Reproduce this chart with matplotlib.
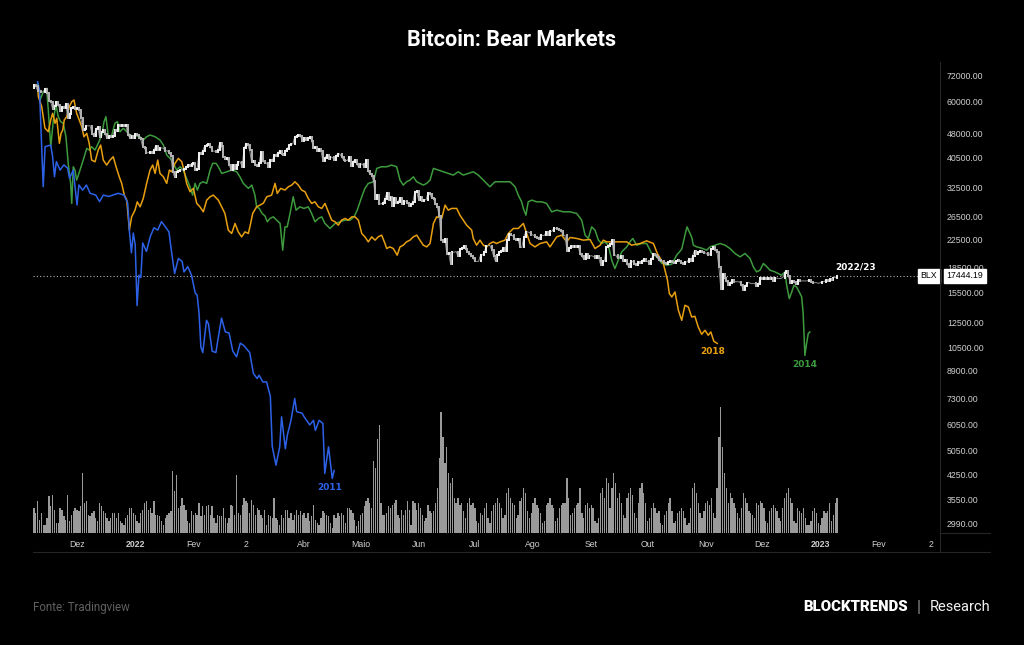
import numpy as np
import matplotlib.pyplot as plt
from matplotlib.lines import Line2D
from matplotlib.ticker import NullLocator
import matplotlib.transforms as mtransforms

# ---- data -------------------------------------------------------------
# BTC daily closes (thousand USD), 8 Nov 2021 (day -2) .. 10 Jan 2023 (day 426)
btc_close = [
    # Nov 2021 (from the 8th)
    67.5, 66.9, 64.9, 64.9, 64.2, 64.4, 65.5, 63.6, 60.4, 60.0, 56.9, 58.1, 59.7, 58.7, 56.3, 57.6,
    57.2, 58.9, 53.6, 54.8, 57.3, 57.8, 57.0,
    # Dec
    57.2, 56.5, 53.6, 49.2, 49.4, 50.6, 50.5, 50.6, 47.6, 47.1, 49.4, 50.1, 46.7, 48.4, 48.9, 47.6,
    46.2, 46.9, 46.7, 46.9, 49.0, 48.6, 50.8, 50.4, 50.8, 50.6, 50.7, 47.5, 46.5, 47.1, 46.3,
    # Jan 2022
    47.7, 47.3, 46.5, 45.9, 43.5, 43.2, 41.6, 41.8, 42.0, 41.8, 42.7, 43.9, 42.6, 43.1, 43.2, 43.1,
    42.3, 42.4, 41.7, 40.7, 36.5, 35.1, 36.3, 36.7, 36.9, 37.0, 37.1, 37.7, 38.2, 37.9, 38.5,
    # Feb
    38.7, 37.0, 37.3, 41.6, 41.4, 42.4, 43.8, 44.1, 44.3, 43.6, 42.4, 42.2, 42.1, 42.6, 44.6, 43.9,
    40.6, 40.0, 40.1, 38.4, 37.0, 38.3, 37.3, 38.3, 39.2, 39.1, 37.7, 43.2,
    # Mar
    44.4, 44.0, 42.5, 39.1, 39.4, 38.4, 37.9, 38.7, 41.9, 39.4, 38.8, 38.8, 37.8, 39.7, 39.3, 41.1,
    40.9, 41.8, 42.2, 41.3, 41.0, 42.4, 42.9, 44.0, 44.3, 44.5, 46.8, 47.1, 47.5, 47.1, 45.5,
    # Apr
    46.3, 45.8, 46.4, 46.6, 45.5, 43.2, 43.4, 42.3, 42.8, 42.2, 39.5, 40.1, 41.1, 39.9, 40.5, 40.4,
    39.7, 40.8, 41.5, 41.4, 40.5, 39.7, 39.5, 39.5, 40.4, 38.1, 39.2, 39.7, 38.6, 37.7,
    # May
    38.5, 38.5, 37.7, 39.7, 36.6, 36.0, 35.5, 34.1, 30.1, 31.0, 29.1, 29.0, 29.3, 30.1, 31.3, 29.9,
    30.4, 28.7, 30.3, 29.2, 29.4, 30.3, 29.1, 29.7, 29.6, 29.3, 28.6, 29.0, 29.5, 31.7, 31.8,
    # Jun
    29.8, 30.5, 29.7, 29.9, 29.9, 31.4, 31.1, 30.2, 30.1, 29.1, 28.4, 26.6, 22.5, 22.2, 22.6, 20.4,
    20.5, 19.0, 20.6, 20.6, 20.7, 20.0, 21.1, 21.2, 21.5, 21.0, 20.7, 20.3, 20.1, 19.8,
    # Jul
    19.3, 19.3, 19.3, 20.2, 20.2, 20.6, 21.6, 21.6, 21.6, 20.9, 20.0, 19.3, 20.2, 20.6, 20.8, 21.2,
    20.8, 22.4, 23.4, 23.2, 23.2, 22.7, 22.5, 22.6, 21.3, 21.3, 22.9, 23.8, 23.8, 23.7, 23.3,
    # Aug
    23.3, 23.0, 22.8, 22.6, 23.3, 23.2, 23.2, 23.8, 23.2, 23.9, 23.9, 24.4, 24.4, 24.3, 24.1, 23.9,
    23.3, 23.2, 20.8, 21.2, 21.5, 21.4, 21.5, 21.4, 21.6, 20.3, 20.0, 19.6, 20.3, 19.8, 20.0,
    # Sep
    20.1, 20.0, 19.8, 20.0, 19.8, 18.8, 19.3, 19.3, 21.4, 21.6, 21.8, 22.4, 20.2, 20.2, 19.7, 19.8,
    20.1, 19.4, 19.5, 19.0, 18.5, 19.4, 19.3, 18.9, 18.8, 19.2, 19.1, 19.4, 19.6, 19.4,
    # Oct
    19.3, 19.0, 19.6, 20.3, 20.2, 19.9, 19.5, 19.4, 19.4, 19.1, 19.0, 19.2, 19.4, 19.2, 19.1, 19.3,
    19.5, 19.3, 19.1, 19.0, 19.2, 19.2, 19.6, 19.3, 20.1, 20.8, 20.3, 20.6, 20.8, 20.6, 20.5,
    # Nov
    20.5, 20.2, 20.2, 21.1, 21.3, 20.9, 20.6, 18.5, 15.9, 17.6, 17.1, 16.8, 16.3, 16.6, 16.9, 16.7,
    16.7, 16.7, 16.7, 16.3, 15.8, 16.2, 16.6, 16.6, 16.5, 16.5, 16.5, 16.2, 16.4, 17.2,
    # Dec
    17.0, 17.1, 17.0, 17.1, 17.0, 17.1, 16.8, 17.2, 17.1, 17.1, 17.1, 17.2, 17.8, 18.0, 17.4, 16.6,
    16.8, 16.7, 16.4, 16.9, 16.8, 16.8, 16.8, 16.8, 16.8, 16.9, 16.7, 16.5, 16.6, 16.6, 16.5,
    # Jan 2023
    16.6, 16.7, 16.7, 16.9, 16.8, 17.0, 16.9, 17.2, 17.2, 17.44419,
]
btc_first_open = 66.0

# daily volume (relative units), same days as the candles
volume = [
    25, 20, 32, 13, 20, 8, 8, 15, 37, 27, 38, 23, 10, 10, 25, 23, 17, 13, 38, 12,
    18, 22, 25, 23, 22, 27, 60, 30, 32, 18, 17, 20, 22, 15, 12, 30, 27, 22, 20, 15,
    12, 15, 20, 20, 15, 20, 12, 10, 8, 15, 18, 25, 25, 20, 18, 12, 10, 20, 23, 30,
    32, 23, 25, 20, 32, 18, 18, 17, 12, 8, 15, 18, 20, 22, 62, 42, 58, 25, 27,
    35, 28, 23, 12, 10, 22, 18, 20, 18, 30, 17, 27, 18, 27, 28, 18, 27, 15, 10, 18,
    17, 17, 25, 15, 10, 15, 28, 27, 18, 58, 20, 18, 28, 35, 32, 30, 20, 33, 28,
    18, 25, 23, 18, 15, 23, 8, 18, 17, 15, 35, 15, 13, 8, 18, 15, 23, 23, 15, 20,
    13, 18, 23, 18, 22, 18, 20, 15, 20, 12, 17, 28, 13, 10, 8, 15, 22, 20, 18, 17,
    10, 5, 18, 15, 20, 17, 20, 18, 10, 25, 25, 23, 20, 13, 7, 12, 18, 20, 27,
    32, 35, 30, 25, 72, 65, 93, 107, 30, 18, 18, 20, 27, 25, 28, 30, 33, 18, 15, 23,
    18, 23, 32, 23, 8, 32, 30, 23,
    # Jun 2022
    30, 25, 18, 12, 15, 28, 22, 20, 22, 30, 45, 75, 120, 95, 70, 85, 60, 50, 55, 35,
    30, 35, 28, 30, 22, 15, 30, 35, 28, 30,
    # Jul
    25, 12, 10, 20, 18, 25, 30, 15, 10, 22, 28, 30, 35, 30, 25, 15, 18, 40, 45, 35,
    30, 28, 15, 18, 32, 35, 45, 40, 22, 15, 20,
    # Aug
    30, 35, 28, 25, 20, 10, 12, 28, 30, 35, 28, 25, 12, 15, 25, 28, 30, 30, 55, 35,
    18, 20, 25, 28, 30, 45, 20, 15, 28, 30, 25,
    # Sep
    28, 25, 12, 10, 15, 40, 45, 35, 55, 50, 25, 45, 60, 50, 35, 40, 30, 18, 15, 35,
    40, 45, 38, 20, 15, 30, 45, 50, 40, 30,
    # Oct
    12, 15, 25, 30, 25, 20, 22, 10, 8, 18, 22, 30, 35, 22, 10, 12, 20, 22, 25, 22,
    15, 8, 10, 25, 45, 50, 40, 30, 20, 15, 22,
    # Nov
    30, 32, 28, 35, 20, 15, 45, 95, 125, 85, 60, 45, 30, 40, 35, 30, 25, 20, 15, 25,
    40, 35, 30, 22, 20, 18, 15, 30, 28, 32,
    # Dec
    30, 25, 12, 10, 22, 25, 28, 25, 22, 15, 12, 25, 35, 40, 45, 35, 30, 12, 10, 25,
    22, 20, 25, 15, 8, 8, 12, 22, 25, 20, 10,
    # Jan 2023
    8, 15, 22, 20, 22, 30, 12, 18, 30, 35,
]

# earlier bear markets, rescaled to the 2021 top (days since the top, price)
days_2011 = [0, 1, 3, 4, 7, 8, 9, 10, 12, 14, 16, 17, 19, 21, 22, 24, 26, 28, 31, 33, 35, 38, 40,
             43, 46, 48, 49, 50, 51, 52, 53, 54, 55, 56, 58, 60, 62, 64, 66, 68, 70, 71, 73, 75,
             77, 78, 80, 82, 84, 85, 86, 87, 88, 90, 91, 93, 95, 96, 98, 100, 102, 104, 106, 108,
             110, 113, 115, 117, 118, 120, 122, 124, 125, 127, 129, 130, 132, 133, 135, 137, 138,
             141, 142, 145, 147, 148, 150, 152, 153, 155, 157, 158]
price_2011 = [69100, 65200, 32800, 43600, 44100, 40600, 35200, 39200, 36900, 38300, 37400, 34800,
              36900, 28800, 33200, 32000, 33200, 31300, 30900, 29500, 30900, 30600, 30900, 31300,
              30900, 29200, 23600, 20500, 23600, 21700, 14100, 17500, 17200, 22000, 20700, 23000,
              24500, 24100, 25600, 24700, 23800, 21400, 17700, 19700, 19300, 17900, 18600, 17500,
              15400, 15200, 13400, 10500, 10100, 12700, 12400, 10200, 10100, 11000, 12900, 11700,
              11600, 10200, 9800, 10800, 10600, 10100, 8700, 8400, 8600, 8200, 8200, 7400, 5200,
              4540, 5170, 6400, 5100, 5600, 6240, 7290, 6640, 6560, 6400, 6040, 6240, 5810, 6240,
              6110, 4280, 5170, 4130, 4370]

days_2018 = [0.0, 0.4, 2.2, 3.9, 5.7, 7.0, 8.0, 9.3, 10.2, 11.6, 12.5, 13.4, 14.2, 15.5, 16.9, 18.2,
             19.4, 20.8, 22.2, 23.5, 24.7, 26.2, 27.5, 28.8, 30.6, 32.3, 33.6, 35.0, 36.8, 38.6,
             40.3, 41.8, 43.5, 44.8, 46.2, 47.5, 48.9, 50.1, 51.9, 53.1, 54.6, 56.3, 58.1, 59.9,
             61.3, 62.6, 64.0, 65.2, 67.0, 68.8, 70.2, 71.4, 73.2, 75.0, 76.8, 78.0, 79.4, 81.2,
             83.0, 84.8, 86.5, 88.3, 90.1, 91.9, 93.6, 96.3, 98.1, 99.8, 101.6, 103.4, 105.2,
             106.9, 108.7, 110.5, 112.3, 113.5, 114.6, 116.7, 118.5, 120.3, 122.1, 124.7, 126.5,
             127.7, 129.5, 131.8, 133.6, 135.4, 137.1, 138.9, 140.7, 142.5, 144.2, 146.0, 147.8,
             149.6, 151.4, 153.1, 154.9, 156.7, 158.5, 160.2, 162.0, 163.8, 165.5, 167.4, 169.1,
             170.9, 172.7, 174.4, 176.2, 178.0, 179.8, 181.5, 183.3, 185.1, 186.0, 187.7, 189.5,
             191.6, 193.1, 194.8, 196.6, 198.4, 200.2, 202.0, 203.7, 205.5, 207.3, 209.1, 210.9,
             212.6, 215.3, 217.1, 218.8, 220.6, 223.3, 225.0, 226.8, 228.6, 231.3, 232.1, 233.9,
             235.7, 237.5, 239.3, 241.0, 242.8, 244.6, 246.4, 249.0, 250.8, 253.5, 256.1, 258.8,
             260.6, 262.4, 265.0, 267.7, 271.2, 273.0, 276.6, 279.2, 281.9, 283.7, 287.2, 290.8,
             294.3, 297.0, 299.7, 301.4, 303.2, 306.7, 313.9, 316.5, 321.0, 324.5, 328.1, 330.2,
             333.4, 335.6, 336.6, 337.9, 339.6, 341.4, 343.2, 344.9, 346.7, 348.5, 350.2, 352.0,
             353.8, 355.6, 357.3, 358.7, 360.3, 362.1]
price_2018 = [67100, 62150, 57900, 49760, 48470, 52670, 55240, 51450, 53310, 44630, 47910, 49060,
              52670, 53930, 57900, 59990, 60720, 55240, 52670, 50220, 46770, 47910, 44630, 39630,
              39150, 42550, 44090, 39630, 38250, 39630, 40580, 37790, 35190, 33580, 30900, 29820,
              24090, 26480, 27770, 29460, 28430, 30180, 33580, 36910, 38250, 36050, 39630, 36050,
              35190, 33580, 36910, 36470, 38710, 40110, 39150, 36910, 33580, 31640, 32410, 29130,
              28430, 27440, 29820, 30530, 30900, 29820, 28430, 27130, 24090, 23530, 25260, 23800,
              22970, 23800, 23530, 25260, 27130, 28430, 28780, 29190, 30530, 30900, 33580, 31280,
              32410, 32020, 32780, 33180, 33970, 33180, 32020, 31640, 30180, 29130, 29460, 28430,
              28110, 29130, 27440, 25870, 25560, 24960, 25870, 26180, 25870, 26480, 26480, 25870,
              23530, 22970, 22170, 22970, 22440, 22970, 23250, 21910, 21150, 21390, 21150, 20170,
              21390, 21650, 22170, 22440, 22970, 23250, 22440, 21650, 21390, 21910, 25260, 26480,
              26180, 28780, 27770, 28110, 28110, 26800, 25870, 24960, 24090, 22710, 21650, 22440,
              21650, 21390, 21910, 22170, 21910, 22170, 22440, 23530, 24380, 24380, 25260, 23530,
              21910, 21390, 21910, 22170, 21390, 22970, 23250, 22170, 22870, 22710, 22440, 22550,
              21150, 21650, 22440, 22170, 22170, 22170, 21650, 21910, 22330, 21910, 20410, 19010,
              16880, 15350, 14990, 15530, 13640, 12700, 14130, 13960, 13000, 13070, 12110, 11500,
              11830, 11420, 11690, 10940, 10780]

days_2014 = [0.0, 1.3, 2.7, 3.9, 4.8, 5.7, 7.0, 8.4, 9.8, 11.0, 12.3, 13.7, 15.1, 16.4, 17.6, 18.2,
             19.0, 19.9, 20.8, 22.6, 24.3, 26.2, 27.5, 28.8, 30.6, 32.3, 34.2, 35.4, 36.4, 37.7,
             39.5, 41.2, 42.5, 43.9, 45.7, 47.5, 49.2, 51.9, 53.7, 56.3, 58.1, 59.9, 62.6, 65.2,
             67.0, 68.8, 70.6, 72.3, 74.1, 75.9, 77.6, 79.4, 81.2, 82.6, 83.9, 85.1, 86.5, 88.3,
             90.1, 91.9, 93.3, 95.1, 96.3, 98.1, 100.8, 103.4, 106.1, 107.8, 109.6, 112.3, 114.1,
             115.8, 116.7, 118.1, 119.6, 121.2, 122.4, 123.8, 125.6, 127.4, 129.2, 130.6, 131.8,
             133.0, 134.5, 136.2, 137.7, 139.8, 141.9, 144.2, 146.0, 147.8, 149.6, 151.4, 153.1,
             155.8, 158.5, 161.1, 163.8, 166.5, 168.6, 170.3, 172.7, 174.4, 176.2, 178.9, 180.7,
             183.3, 186.0, 188.6, 191.3, 193.1, 194.8, 196.6, 198.4, 200.2, 202.0, 203.7, 205.5,
             207.3, 209.1, 210.9, 213.5, 216.2, 218.8, 221.5, 224.1, 226.8, 229.5, 232.1, 234.8,
             237.5, 241.0, 243.7, 246.4, 249.0, 251.7, 254.4, 256.1, 257.9, 258.8, 260.2, 261.4,
             263.3, 265.9, 268.6, 271.2, 273.9, 276.6, 280.1, 283.7, 287.2, 289.9, 291.7, 293.4,
             295.2, 297.0, 298.8, 300.5, 302.3, 304.1, 305.9, 307.6, 309.4, 311.2, 313.9, 315.6,
             317.1, 319.2, 321.9, 324.5, 327.2, 329.9, 332.5, 335.2, 337.9, 340.5, 343.2, 344.9,
             346.0, 348.5, 349.4, 351.2, 353.8, 356.5, 358.3, 360.9, 363.6, 366.3, 368.9, 371.6,
             374.3, 376.9, 379.6, 381.3, 383.1, 384.9, 386.7, 388.5, 390.2, 392.9, 394.6, 396.4,
             398.2, 399.1, 400.5, 401.8, 403.0, 404.4, 405.8, 407.1, 407.9, 408.8, 409.7, 410.6,
             411.5]
price_2014 = [68020, 60720, 63660, 65200, 65990, 56550, 43560, 52670, 58600, 53930, 52040, 51450,
              46770, 38250, 33580, 29130, 37790, 36910, 34380, 36910, 39630, 43070, 42550, 43560,
              42550, 44630, 47340, 52040, 53930, 46770, 47340, 51450, 52040, 48470, 49660, 48470,
              47340, 46770, 47340, 45690, 46770, 47340, 46770, 45690, 44090, 41070, 40110, 38710,
              36910, 37790, 36910, 34800, 32780, 30900, 33580, 32020, 33580, 33970, 33580, 36910,
              38710, 38710, 37790, 36050, 36470, 36910, 36470, 35190, 33580, 32410, 33180, 30900,
              28430, 28110, 27130, 26610, 25560, 26180, 26480, 25870, 25260, 20900, 24660, 24660,
              27130, 30530, 27770, 28430, 28110, 28430, 27130, 25560, 26180, 26480, 25260, 24380,
              25260, 25560, 25870, 25870, 26480, 27770, 30530, 32410, 33580, 33970, 37360, 37790,
              37790, 38250, 37790, 34380, 33180, 33970, 34380, 35190, 33970, 33580, 33180, 33580,
              34380, 37360, 36910, 36470, 36050, 35620, 36470, 35620, 36050, 36470, 35620, 34380,
              32780, 33970, 33970, 33970, 33970, 32780, 30900, 29460, 28110, 26800, 29460, 29820,
              29460, 29460, 29130, 27440, 27770, 27440, 27440, 27130, 25870, 23250, 22710, 24660,
              24090, 22440, 21910, 22170, 21650, 19460, 18340, 19460, 20650, 21390, 22170, 22710,
              21650, 21910, 21910, 20410, 19930, 19050, 18780, 18910, 20170, 21050, 23250, 24660,
              22920, 21650, 21390, 21200, 20900, 21390, 21650, 21910, 21650, 21150, 20410, 19930,
              20410, 19700, 18580, 17910, 18130, 19010, 18580, 18130, 17910, 17700, 17490, 17910,
              16290, 14820, 15530, 16290, 16090, 15530, 14990, 13350, 9900, 10760, 11560, 11690]

price_ticks = [72000, 60000, 48000, 40500, 32500, 26500, 22500, 18500, 15500, 12500, 10500,
               8900, 7300, 6050, 5050, 4250, 3550, 2990]
# days since 10 Nov 2021 for each month label
month_days = [21, 52, 83, 111, 142, 172, 203, 233, 264, 295, 325, 356, 386, 417, 448, 476]
month_labels = ['Dez', '2022', 'Fev', '2', 'Abr', 'Maio', 'Jun', 'Jul', 'Ago', 'Set', 'Out',
                'Nov', 'Dez', '2023', 'Fev', '2']
last_price = 17444.19

# ---- figure -----------------------------------------------------------
BG = '#000000'
TXT = '#cfcfcf'
C2011, C2014, C2018 = '#2d62e8', '#3d9a3d', '#e8a010'
tick_font = 'Liberation Sans'

fig = plt.figure(figsize=(10.24, 6.45), dpi=100, facecolor=BG)
pos = [33 / 1024, 1 - 533 / 645, 907 / 1024, 473 / 645]

axv = fig.add_axes(pos, zorder=0)
axv.set_facecolor(BG)
ax = fig.add_axes(pos, zorder=1)
ax.patch.set_visible(False)

xlim = (-2.45, 480.8)

# volume
vdays = np.arange(-2, -2 + len(volume))
axv.bar(vdays, volume, width=0.7, color='#9a9a9a', linewidth=0)
axv.set_xlim(*xlim)
axv.set_ylim(0, 470)
axv.axis('off')

# candles
closes = np.array(btc_close) * 1000
opens = np.r_[btc_first_open * 1000, closes[:-1]]
cdays = np.arange(-2, -2 + len(closes))
up = closes >= opens
lo = np.minimum(opens, closes)
hi = np.maximum(opens, closes)
ax.plot(cdays, closes, color='#8c8c8c', lw=0.7, zorder=3.5)
ax.vlines(cdays[up], lo[up], hi[up], colors='#f4f4f4', lw=1.4, capstyle='projecting', zorder=4)
ax.vlines(cdays[~up], lo[~up], hi[~up], colors='#b4b4b4', lw=1.4, capstyle='projecting', zorder=4)

ax.plot(days_2014, price_2014, color=C2014, lw=1.1, zorder=3)
ax.plot(days_2018, price_2018, color=C2018, lw=1.1, zorder=3)
ax.plot(days_2011, price_2011, color=C2011, lw=1.1, zorder=3)

ax.axhline(last_price, color='#b0b0b0', lw=0.8, ls=(0, (1, 2)), zorder=2)

ax.set_yscale('log')
ax.set_xlim(*xlim)
ax.set_ylim(2804, 80660)
for s in ax.spines.values():
    s.set_visible(False)

ax.yaxis.tick_right()
ax.set_yticks(price_ticks)
ax.set_yticklabels([f'{v:.2f}' for v in price_ticks], family=tick_font)
ax.yaxis.set_minor_locator(NullLocator())
ax.tick_params(axis='y', length=0, pad=5, labelsize=6.3, labelcolor=TXT)

ax.set_xticks(month_days)
ax.set_xticklabels(month_labels, family=tick_font)
ax.tick_params(axis='x', length=0, pad=5, labelsize=6.3, labelcolor=TXT)
for t in ax.get_xticklabels():
    if t.get_text() in ('2022', '2023'):
        t.set_fontweight('bold')

# series labels
lab = dict(fontsize=6.5, fontweight='bold', textcoords='offset points', ha='center', va='center')
ax.annotate('2011', (days_2011[-1], price_2011[-1]), xytext=(-3.5, -12), color=C2011, **lab)
ax.annotate('2018', (days_2018[-1], price_2018[-1]), xytext=(-3.5, -6), color=C2018, **lab)
i14 = int(np.argmin(price_2014))
ax.annotate('2014', (days_2014[i14], price_2014[i14]), xytext=(0, -6.5), color=C2014, **lab)
ax.annotate('2022/23', (cdays[-1], closes[-1]), xytext=(13, 6), color='white', **lab)

# last price tag
tr = mtransforms.blended_transform_factory(ax.transAxes, ax.transData)
ax.text(0.997, last_price, 'BLX', transform=tr, ha='right', va='center', fontsize=6.3,
        family=tick_font, color='black', zorder=6,
        bbox=dict(boxstyle='square,pad=0.28', fc='white', ec='white'))
ax.text(1.007, last_price, f'{last_price:.2f}', transform=tr, ha='left', va='center',
        fontsize=6.3, family=tick_font, color='black', zorder=6,
        bbox=dict(boxstyle='square,pad=0.28', fc='white', ec='white'))

# frame lines
lc = '#262626'
fig.add_artist(Line2D([940 / 1024] * 2, [1 - 62 / 645, 1 - 552 / 645], color=lc, lw=0.8))
fig.add_artist(Line2D([33 / 1024, 990 / 1024], [1 - 552 / 645] * 2, color=lc, lw=0.8))
fig.add_artist(Line2D([940 / 1024, 990 / 1024], [1 - 533 / 645] * 2, color=lc, lw=0.8))

fig.text(0.5, 1 - 40 / 645, 'Bitcoin: Bear Markets', ha='center', va='center', color='white',
         fontsize=15.5, fontweight='bold', family='Roboto')
fig.text(33 / 1024, 1 - 607 / 645, 'Fonte: Tradingview', ha='left', va='center', color='#606060',
         fontsize=8.3, family='Roboto')
fig.text(803 / 1024, 1 - 607 / 645, 'BLOCKTRENDS', ha='left', va='center', color='white',
         fontsize=10.8, fontweight='heavy', family='Roboto')
fig.text(919 / 1024, 1 - 607 / 645, '|', ha='center', va='center', color='#8a8a8a',
         fontsize=12, family='Roboto')
fig.text(990 / 1024, 1 - 607 / 645, 'Research', ha='right', va='center', color='#f2f2f2',
         fontsize=10.5, family='Roboto')

fig.savefig('out.png', dpi=100, facecolor=BG)
